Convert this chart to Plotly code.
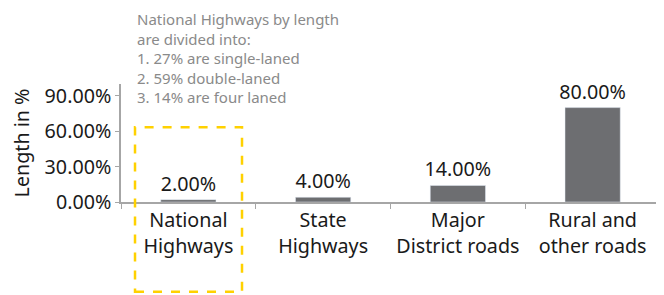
import plotly.graph_objects as go

categories = ["National<br>Highways", "State<br>Highways", "Major<br>District roads", "Rural and<br>other roads"]
shares = [0.02, 0.04, 0.14, 0.80]
tick_vals = [0, 0.3, 0.6, 0.9]
note_lines = ["National Highways by length", "are divided into:", "1. 27% are single-laned",
              "2. 59% double-laned", "3. 14% are four laned"]

FONT = "Noto Sans"
FS = 19.7
# page body has an 8px offset; compensate in figure size/margins
W, H = 656, 287
ML, MR, MT, MB = 113, 4, 76, 93
plot_h = H - MT - MB

fig = go.Figure(go.Bar(
    x=categories, y=shares, marker_color="#6d6e71", width=0.41,
    texttemplate="%{y:.2%}", textposition="outside", cliponaxis=False,
    constraintext="none",
    textfont=dict(size=FS, color="#1a1a1a", family=FONT),
))

fig.update_layout(
    width=W, height=H, margin=dict(l=ML, r=MR, t=MT, b=MB, autoexpand=False),
    paper_bgcolor="white", plot_bgcolor="white", showlegend=False,
    font=dict(family=FONT, size=FS, color="#1a1a1a"),
    xaxis=dict(showline=True, linecolor="#a6a6a6", linewidth=1.5, ticks="outside",
               tickson="boundaries", ticklen=5, tickcolor="#a6a6a6", automargin=False,
               tickfont=dict(size=FS, family=FONT, color="#1a1a1a")),
    yaxis=dict(range=[0, 1.0], tickvals=tick_vals, tickformat=".2%", showgrid=False,
               zeroline=False, showline=True, linecolor="#a6a6a6", linewidth=1.5,
               ticks="outside", ticklen=4, tickcolor="#a6a6a6", automargin=False,
               title=dict(text="Length in %", font=dict(size=FS, family=FONT), standoff=13),
               tickfont=dict(size=FS, family=FONT, color="#1a1a1a")),
    annotations=[dict(text="<br>".join(note_lines), xref="paper", yref="paper",
                      x=0.028, y=1 + MT / plot_h, xanchor="left", yanchor="top",
                      align="left", showarrow=False, borderpad=0,
                      font=dict(size=15, color="#8a8a8a", family=FONT))],
    shapes=[dict(type="rect", xref="paper", yref="paper", x0=0.026, x1=0.2245,
                 y0=-0.761, y1=0.634, line=dict(color="#ffd100", width=2.5, dash="dash"),
                 fillcolor="rgba(0,0,0,0)")],
)

fig.write_html("out.html")
